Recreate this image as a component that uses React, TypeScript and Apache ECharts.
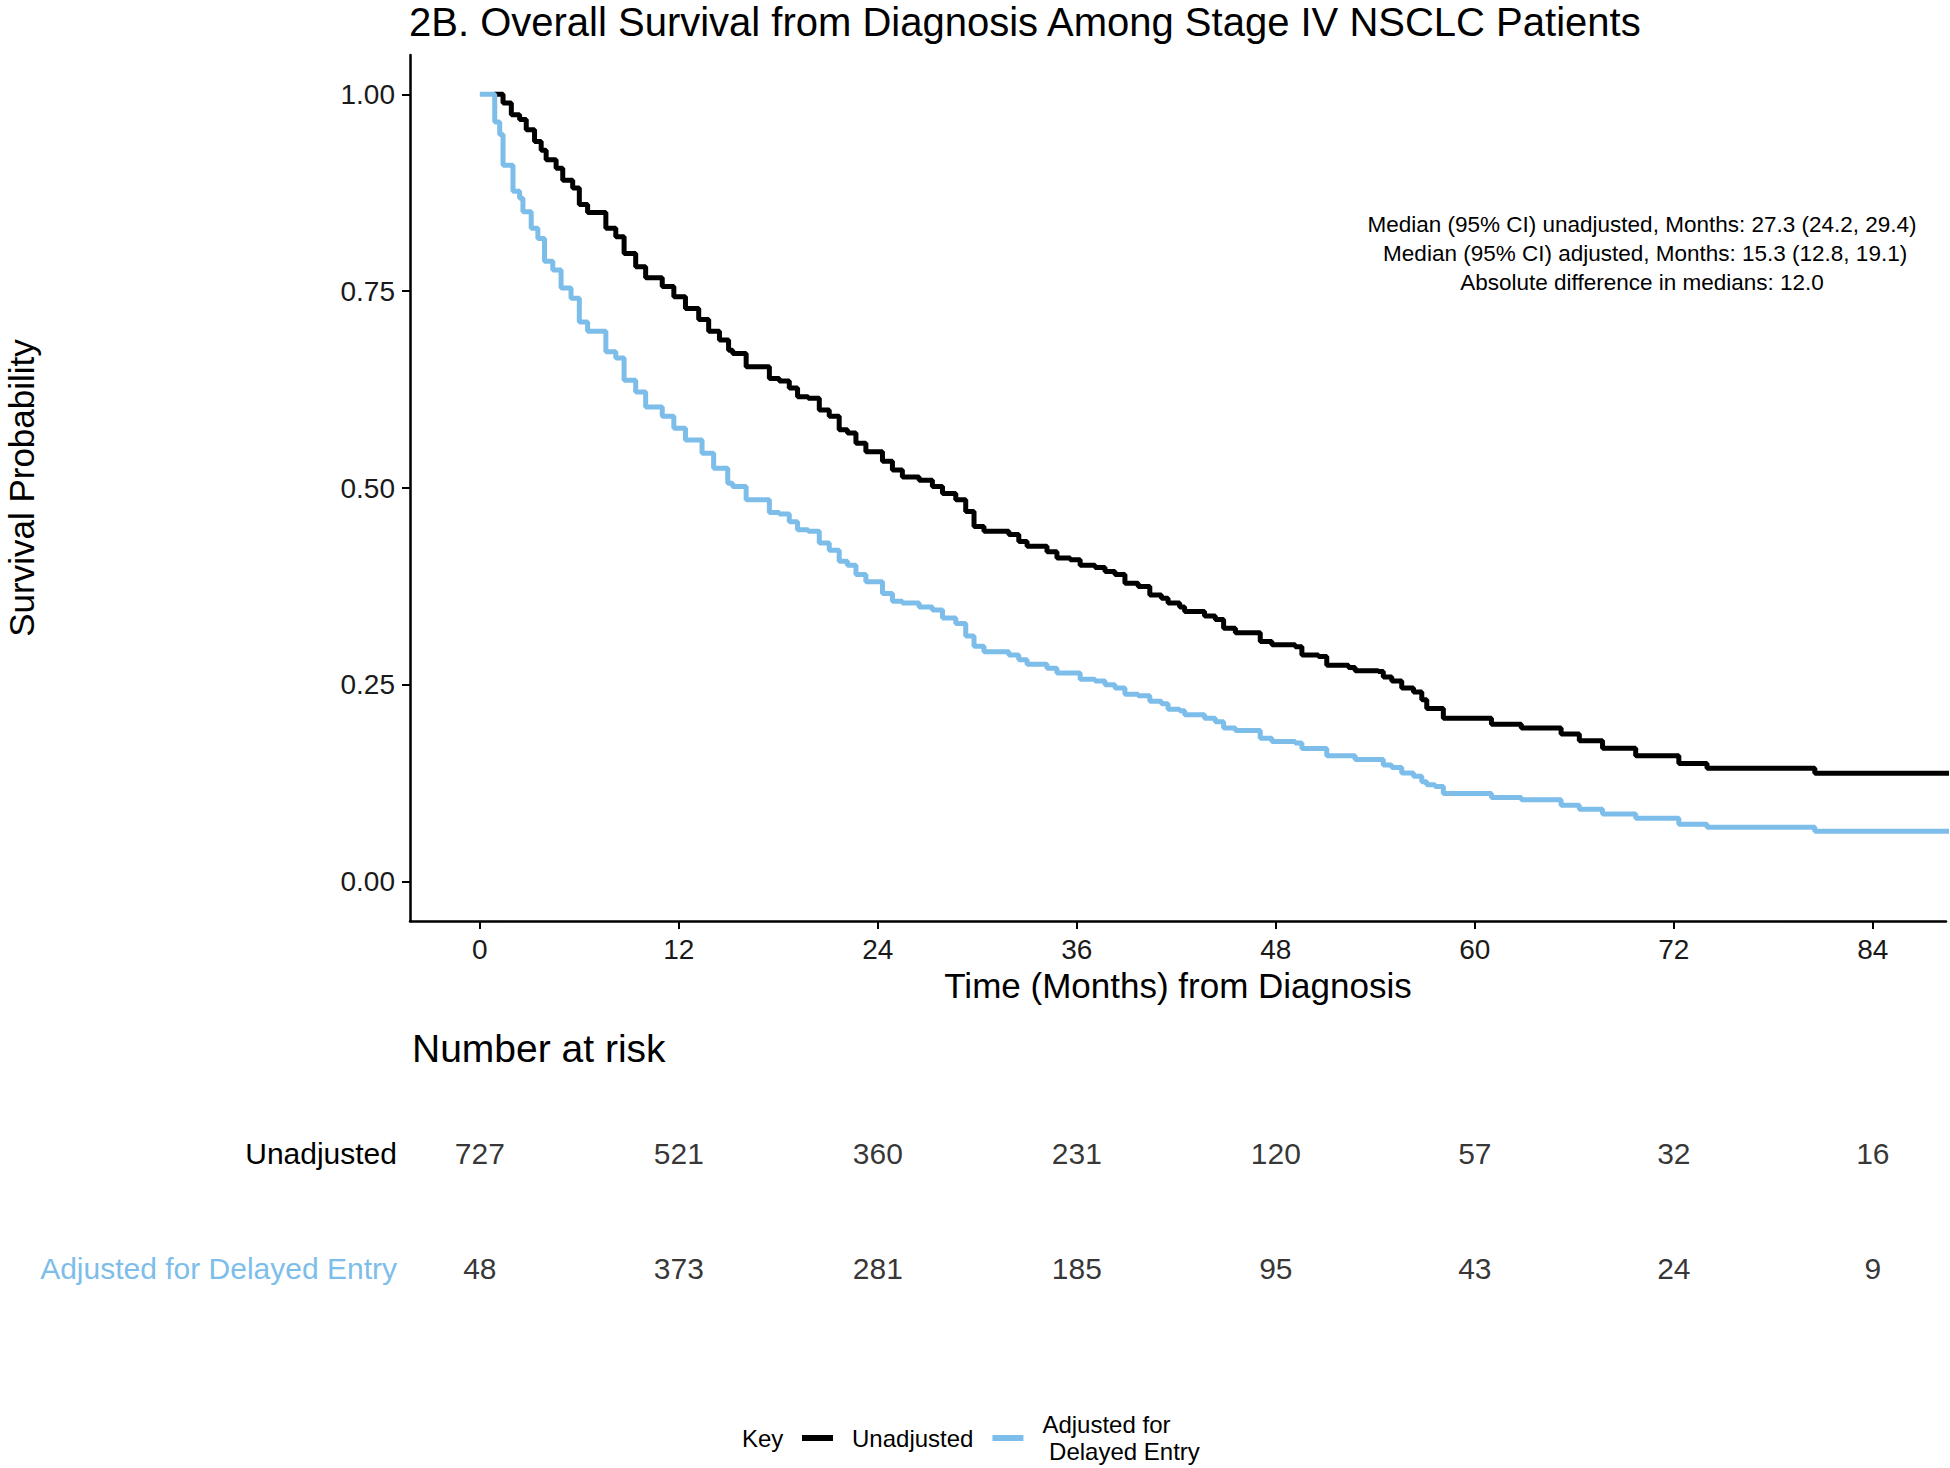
import React, { useEffect, useRef } from "react";
import * as echarts from "echarts";

const FONT = "'Liberation Sans', Arial, Helvetica, sans-serif";

const TITLE = "2B. Overall Survival from Diagnosis Among Stage IV NSCLC Patients";
const X_TITLE = "Time (Months) from Diagnosis";
const Y_TITLE = "Survival Probability";
const X_TICKS = [0, 12, 24, 36, 48, 60, 72, 84];
const Y_TICKS = [0, 0.25, 0.5, 0.75, 1];
const ANNOTATION = [
  "Median (95% CI) unadjusted, Months: 27.3 (24.2, 29.4)",
  " Median (95% CI) adjusted, Months: 15.3 (12.8, 19.1)",
  "Absolute difference in medians: 12.0",
];

const SERIES_NAMES = ["Unadjusted", "Adjusted for\n Delayed Entry"];
const RISK_ROWS = ["Unadjusted", "Adjusted for Delayed Entry"];
const RISK_UNADJ = [727, 521, 360, 231, 120, 57, 32, 16];
const RISK_ADJ = [48, 373, 281, 185, 95, 43, 24, 9];

const COLOR_UNADJ = "#000000";
const COLOR_ADJ = "#7DBDEA";

// Unadjusted KM curve (months, survival)
const UNADJ_T = [
  0.85, 1.4, 1.9, 2.4, 2.8, 3.3, 3.7, 4.0, 4.6, 5.0, 5.6, 6.0, 6.5, 7.6, 8.2, 8.7, 9.4, 10.0,
  11.0, 11.7, 12.4, 13.2, 13.8, 14.45, 15.0, 15.25, 16.06, 17.46, 18.06, 18.66, 19.16, 19.8,
  20.47, 21.07, 21.67, 22.17, 22.68, 23.28, 24.28, 24.88, 25.48, 26.49, 27.29, 27.9, 28.7,
  29.3, 29.8, 30.4, 31.9, 32.5, 33.0, 34.2, 34.8, 35.6, 36.2, 37.1, 37.7, 38.3, 38.9, 39.7,
  40.4, 41.1, 41.5, 42.2, 42.5, 43.7, 44.35, 44.85, 45.56, 47.06, 47.76, 49.17, 49.57, 50.57,
  51.07, 52.38, 52.78, 54.18, 54.48, 54.99, 55.59, 56.3, 56.8, 57.1, 58.1, 61.0, 62.8, 65.2,
  66.3, 67.7, 69.7, 72.3, 74.0, 80.5, 92,
];
const UNADJ_S = [
  1.0, 0.989, 0.974, 0.968, 0.955, 0.94, 0.929, 0.917, 0.906, 0.891, 0.881, 0.86, 0.85, 0.83,
  0.819, 0.798, 0.781, 0.767, 0.756, 0.743, 0.728, 0.714, 0.699, 0.688, 0.675, 0.671, 0.654,
  0.639, 0.636, 0.627, 0.616, 0.614, 0.599, 0.591, 0.574, 0.57, 0.557, 0.546, 0.534, 0.523,
  0.514, 0.51, 0.502, 0.493, 0.485, 0.47, 0.451, 0.445, 0.441, 0.432, 0.426, 0.419, 0.411,
  0.409, 0.402, 0.399, 0.394, 0.39, 0.379, 0.375, 0.364, 0.36, 0.354, 0.349, 0.343, 0.3375,
  0.333, 0.322, 0.316, 0.305, 0.301, 0.2985, 0.288, 0.286, 0.275, 0.272, 0.268, 0.267, 0.26,
  0.255, 0.246, 0.241, 0.231, 0.22, 0.2075, 0.2, 0.195, 0.1876, 0.179, 0.1695, 0.16, 0.15,
  0.144, 0.1377, 0.1377,
];

// Adjusted for delayed entry KM curve (months, survival)
const ADJ_T = [
  0, 0.9, 1.2, 1.4, 2.0, 2.4, 2.6, 3.1, 3.5, 3.9, 4.4, 4.9, 5.5, 6.0, 6.5, 7.6, 8.2, 8.7, 9.4,
  10.0, 11.0, 11.7, 12.4, 13.4, 14.1, 14.95, 15.25, 16.06, 17.46, 18.06, 18.66, 19.16, 19.8,
  20.47, 21.07, 21.67, 22.17, 22.68, 23.28, 24.28, 24.88, 25.48, 26.49, 27.29, 27.9, 28.7,
  29.3, 29.8, 30.4, 31.9, 32.5, 33.0, 34.2, 34.8, 36.2, 37.1, 37.7, 38.3, 38.9, 39.7, 40.4,
  41.1, 41.5, 42.2, 42.5, 43.7, 44.35, 44.85, 45.56, 47.06, 47.76, 49.17, 49.57, 51.07, 52.78,
  54.48, 54.99, 55.59, 56.3, 56.8, 57.1, 57.6, 58.1, 61.0, 62.8, 65.2, 66.3, 67.7, 69.7, 72.3,
  74.0, 80.5, 92,
];
const ADJ_S = [
  1.0, 0.965, 0.949, 0.91, 0.877, 0.868, 0.851, 0.83, 0.817, 0.788, 0.777, 0.754, 0.741, 0.711,
  0.699, 0.673, 0.665, 0.637, 0.622, 0.603, 0.591, 0.576, 0.561, 0.544, 0.525, 0.506, 0.502,
  0.485, 0.469, 0.467, 0.457, 0.447, 0.445, 0.43, 0.421, 0.407, 0.402, 0.39, 0.381, 0.366,
  0.356, 0.354, 0.349, 0.345, 0.335, 0.328, 0.312, 0.299, 0.292, 0.288, 0.282, 0.276, 0.271,
  0.265, 0.257, 0.255, 0.25, 0.246, 0.238, 0.236, 0.229, 0.226, 0.219, 0.217, 0.212, 0.2075,
  0.203, 0.195, 0.192, 0.182, 0.178, 0.176, 0.169, 0.16, 0.155, 0.148, 0.145, 0.138, 0.134,
  0.127, 0.123, 0.121, 0.112, 0.107, 0.104, 0.097, 0.092, 0.086, 0.0805, 0.073, 0.069, 0.064,
  0.064,
];

const X_MIN = -4.21;
const X_MAX = 88.41;

export default function App() {
  const ref = useRef<HTMLDivElement>(null);

  useEffect(() => {
    if (!ref.current) return;
    const chart = echarts.init(ref.current, null, { renderer: "svg" });

    const unadj = UNADJ_T.map((t, i) => [t, UNADJ_S[i]]);
    const adj = ADJ_T.map((t, i) => [t, ADJ_S[i]]);
    const riskData: any[] = [];
    X_TICKS.forEach((t, i) => {
      riskData.push([t, RISK_ROWS[0], RISK_UNADJ[i]]);
      riskData.push([t, RISK_ROWS[1], RISK_ADJ[i]]);
    });

    const option: any = {
      animation: false,
      backgroundColor: "#ffffff",
      textStyle: { fontFamily: FONT },
      title: {
        text: TITLE,
        left: 409,
        top: 2,
        padding: 0,
        textStyle: { fontFamily: FONT, fontSize: 40, fontWeight: "normal", color: "#000" },
      },
      grid: [
        { left: 410, top: 55, width: 1536, height: 866, containLabel: false, outerBoundsMode: "none" },
        { left: 410, top: 1096, width: 1536, height: 230, containLabel: false, outerBoundsMode: "none" },
      ],
      xAxis: [
        {
          type: "value",
          gridIndex: 0,
          min: X_MIN,
          max: X_MAX,
          name: X_TITLE,
          nameLocation: "middle",
          nameGap: 40,
          nameTextStyle: { fontFamily: FONT, fontSize: 35, color: "#000" },
          axisLine: { show: true, onZero: false, lineStyle: { color: "#000", width: 2.5 } },
          axisTick: { show: true, length: 8, lineStyle: { color: "#000", width: 2 }, customValues: X_TICKS },
          axisLabel: { fontFamily: FONT, fontSize: 28, color: "#1a1a1a", margin: 14, customValues: X_TICKS },
          splitLine: { show: false },
        },
        {
          type: "value",
          gridIndex: 1,
          min: X_MIN,
          max: X_MAX,
          show: false,
        },
      ],
      yAxis: [
        {
          type: "value",
          gridIndex: 0,
          min: -0.05,
          max: 1.05,
          name: Y_TITLE,
          nameLocation: "middle",
          nameGap: 371,
          nameTextStyle: { fontFamily: FONT, fontSize: 35, color: "#000" },
          axisLine: { show: true, onZero: false, lineStyle: { color: "#000", width: 2.5 } },
          axisTick: { show: true, length: 8, lineStyle: { color: "#000", width: 2 }, customValues: Y_TICKS },
          axisLabel: {
            fontFamily: FONT,
            fontSize: 28,
            color: "#1a1a1a",
            margin: 15,
            customValues: Y_TICKS,
            formatter: (v: number) => v.toFixed(2),
          },
          splitLine: { show: false },
        },
        {
          type: "category",
          gridIndex: 1,
          data: RISK_ROWS,
          inverse: true,
          axisLine: { show: false },
          axisTick: { show: false },
          axisLabel: {
            fontFamily: FONT,
            fontSize: 30,
            margin: 13,
            color: (v: string) => (v === RISK_ROWS[1] ? COLOR_ADJ : "#000"),
          },
          splitLine: { show: false },
        },
      ],
      legend: {
        data: SERIES_NAMES,
        left: 802,
        top: 1411,
        icon: "rect",
        itemWidth: 31,
        itemHeight: 6,
        itemGap: 19,
        padding: 0,
        textStyle: { fontFamily: FONT, fontSize: 24, color: "#000", lineHeight: 27, padding: [0, 0, 0, 14] },
      },
      graphic: [
        ...ANNOTATION.map((line, i) => ({
          type: "text",
          x: 1642,
          y: 224 + i * 29,
          style: {
            text: line,
            font: `22.5px ${FONT}`,
            fill: "#000",
            textAlign: "center",
            textVerticalAlign: "middle",
          },
        })),
        {
          type: "text",
          x: 412,
          y: 1048,
          style: {
            text: "Number at risk",
            font: `39px ${FONT}`,
            fill: "#000",
            textAlign: "left",
            textVerticalAlign: "middle",
          },
        },
        {
          type: "text",
          x: 742,
          y: 1438,
          style: {
            text: "Key",
            font: `24px ${FONT}`,
            fill: "#000",
            textAlign: "left",
            textVerticalAlign: "middle",
          },
        },
      ],
      series: [
        {
          name: SERIES_NAMES[0],
          type: "line",
          xAxisIndex: 0,
          yAxisIndex: 0,
          step: "end",
          showSymbol: false,
          clip: true,
          data: unadj,
          lineStyle: { color: COLOR_UNADJ, width: 5 },
          itemStyle: { color: COLOR_UNADJ },
        },
        {
          name: SERIES_NAMES[1],
          type: "line",
          xAxisIndex: 0,
          yAxisIndex: 0,
          step: "end",
          showSymbol: false,
          clip: true,
          data: adj,
          lineStyle: { color: COLOR_ADJ, width: 5 },
          itemStyle: { color: COLOR_ADJ },
        },
        {
          type: "scatter",
          xAxisIndex: 1,
          yAxisIndex: 1,
          symbolSize: 1,
          itemStyle: { color: "rgba(0,0,0,0)" },
          data: riskData,
          label: {
            show: true,
            position: "inside",
            fontFamily: FONT,
            fontSize: 30,
            color: "#000",
            formatter: (p: any) => String(p.value[2]),
          },
        },
      ],
    };

    chart.setOption(option);
    return () => chart.dispose();
  }, []);

  return (
    <div
      ref={ref}
      style={{ position: "absolute", left: 0, top: 0, width: 1950, height: 1468, background: "#fff" }}
    />
  );
}
